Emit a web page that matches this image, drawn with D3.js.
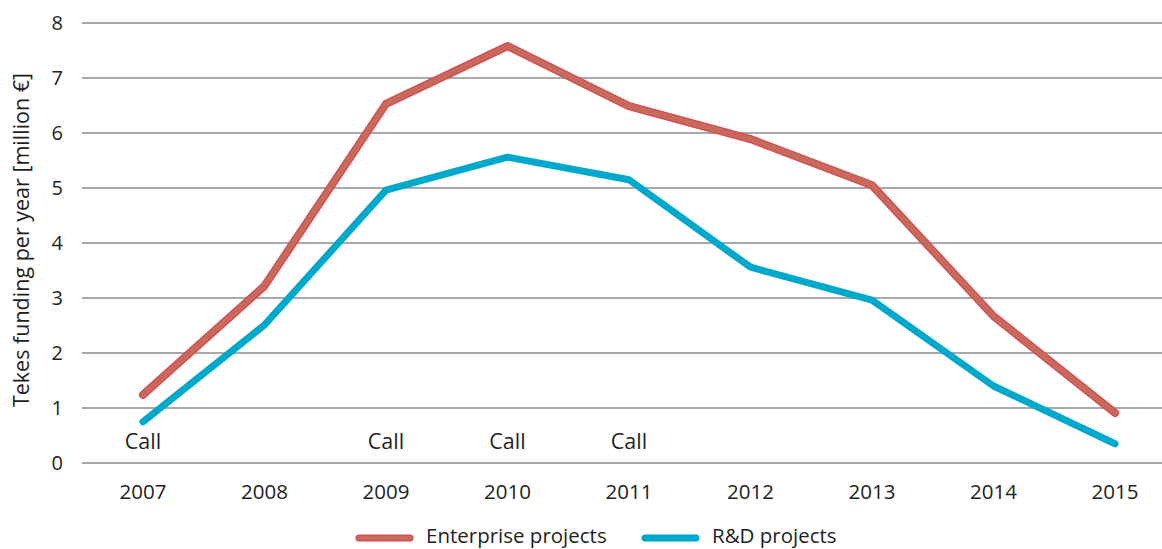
<!DOCTYPE html>
<html>
<head>
<meta charset="utf-8">
<script src="https://cdn.jsdelivr.net/npm/d3@7"></script>
<style>
  body { margin: 0; background: #fff; }
  text { font-family: "Open Sans", "Noto Sans", sans-serif; fill: #231f20; }
</style>
</head>
<body>
<div id="chart"></div>
<script>
const years = ["2007", "2008", "2009", "2010", "2011", "2012", "2013", "2014", "2015"];
const enterprise = [1.24, 3.22, 6.53, 7.58, 6.49, 5.89, 5.05, 2.67, 0.91];
const rnd = [0.75, 2.51, 4.96, 5.56, 5.15, 3.56, 2.96, 1.40, 0.35];
const callYears = ["2007", "2009", "2010", "2011"];
const yTicks = [0, 1, 2, 3, 4, 5, 6, 7, 8];

const width = 1162;
const height = 549;

const svg = d3.select("#chart")
    .append("svg")
    .attr("width", width)
    .attr("height", height);

// scales
const x = d3.scalePoint()
    .domain(years)
    .range([143, 1115]);

const y = d3.scaleLinear()
    .domain([0, 8])
    .range([463, 23]);

// gridlines
svg.append("g")
    .selectAll("line")
    .data(yTicks)
    .enter().append("line")
    .attr("x1", 82)
    .attr("x2", width)
    .attr("y1", d => y(d))
    .attr("y2", d => y(d))
    .attr("stroke", "#a7a9ac")
    .attr("stroke-width", 2);

// y tick labels
svg.append("g")
    .selectAll("text")
    .data(yTicks)
    .enter().append("text")
    .attr("x", 63)
    .attr("y", d => y(d) + 7)
    .attr("text-anchor", "end")
    .attr("font-size", 20)
    .text(d => d);

// x tick labels
svg.append("g")
    .selectAll("text")
    .data(years)
    .enter().append("text")
    .attr("x", d => x(d))
    .attr("y", 499)
    .attr("text-anchor", "middle")
    .attr("font-size", 20.5)
    .text(d => d);

// y axis title
svg.append("text")
    .attr("transform", "translate(29,240) rotate(-90)")
    .attr("text-anchor", "middle")
    .attr("font-size", 21.5)
    .text("Tekes funding per year [million €]");

const line = d3.line()
    .x((d, i) => x(years[i]))
    .y(d => y(d));

// R&D line
svg.append("path")
    .datum(rnd)
    .attr("d", line)
    .attr("fill", "none")
    .attr("stroke", "#00a8cc")
    .attr("stroke-width", 7)
    .attr("stroke-linecap", "round")
    .attr("stroke-linejoin", "round");

// Enterprise line (with thin darker edge)
svg.append("path")
    .datum(enterprise)
    .attr("d", line)
    .attr("fill", "none")
    .attr("stroke", "#dd3f4c")
    .attr("stroke-width", 8)
    .attr("stroke-linecap", "round")
    .attr("stroke-linejoin", "round");

svg.append("path")
    .datum(enterprise)
    .attr("d", line)
    .attr("fill", "none")
    .attr("stroke", "#c7695b")
    .attr("stroke-width", 6)
    .attr("stroke-linecap", "round")
    .attr("stroke-linejoin", "round");

// "Call" labels
svg.append("g")
    .selectAll("text")
    .data(callYears)
    .enter().append("text")
    .attr("x", d => x(d))
    .attr("y", 449)
    .attr("text-anchor", "middle")
    .attr("font-size", 21.5)
    .text("Call");

// legend
const legend = [
    { name: "Enterprise projects", color: "#c7695b", edge: "#dd3f4c", x: 356 },
    { name: "R&D projects", color: "#00a8cc", edge: "#00a8cc", x: 642 }
];

const lg = svg.append("g");
legend.forEach(d => {
    lg.append("line")
        .attr("x1", d.x + 3).attr("x2", d.x + 54)
        .attr("y1", 538).attr("y2", 538)
        .attr("stroke", d.edge)
        .attr("stroke-width", 7)
        .attr("stroke-linecap", "round");
    lg.append("line")
        .attr("x1", d.x + 3).attr("x2", d.x + 54)
        .attr("y1", 538).attr("y2", 538)
        .attr("stroke", d.color)
        .attr("stroke-width", 5)
        .attr("stroke-linecap", "round");
    lg.append("text")
        .attr("x", d.x + 70)
        .attr("y", 543)
        .attr("font-size", 20.5)
        .text(d.name);
});
</script>
</body>
</html>
